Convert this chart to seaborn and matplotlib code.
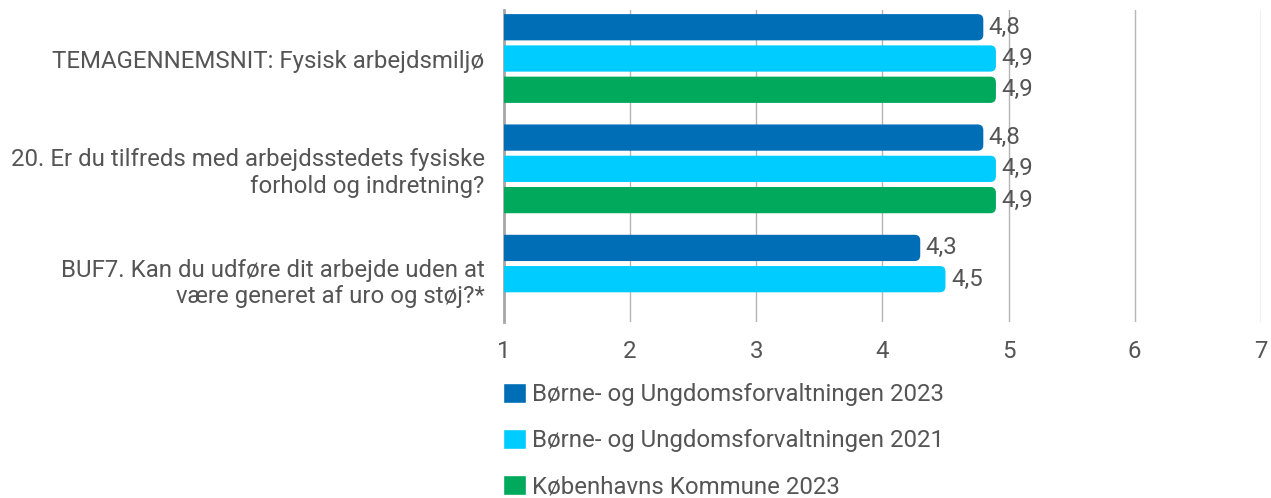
import numpy as np
import pandas as pd
import matplotlib.pyplot as plt
import seaborn as sns
from matplotlib.patches import FancyBboxPatch

questions = [
    "TEMAGENNEMSNIT: Fysisk arbejdsmiljø",
    "20. Er du tilfreds med arbejdsstedets fysiske\nforhold og indretning?",
    "BUF7. Kan du udføre dit arbejde uden at\nvære generet af uro og støj?*",
]
series = [
    "Børne- og Ungdomsforvaltningen 2023",
    "Børne- og Ungdomsforvaltningen 2021",
    "Københavns Kommune 2023",
]
buf_2023 = [4.8, 4.8, 4.3]
buf_2021 = [4.9, 4.9, 4.5]
kk_2023 = [4.9, 4.9, np.nan]
colors = ["#006EB6", "#00CCFF", "#00A95C"]
x_ticks = [1, 2, 3, 4, 5, 6, 7]

df = pd.DataFrame({
    "question": questions * 3,
    "series": [s for s in series for _ in questions],
    "value": buf_2023 + buf_2021 + kk_2023,
})

sns.set_theme(style="white")
plt.rcParams["font.family"] = ["Roboto", "DejaVu Sans"]
text_col = "#555555"
fs = 17.3

fig = plt.figure(figsize=(12.71, 4.98), dpi=100)
ax = fig.add_axes([0.3965, 0.353, 0.5955, 0.627])

sns.barplot(data=df, x="value", y="question", hue="series", hue_order=series,
            order=questions, orient="h", palette=colors, saturation=1,
            width=0.85, gap=0.16, errorbar=None, ax=ax)

handles, labels = ax.get_legend_handles_labels()
ax.get_legend().remove()

for cont in ax.containers:
    ax.bar_label(cont, fmt=lambda v: f"{v:.1f}".replace(".", ","), padding=4,
                 fontsize=fs, color=text_col)
    for bar in cont.patches:
        x0, y0 = bar.get_x(), bar.get_y()
        w, h = bar.get_width(), bar.get_height()
        rb = FancyBboxPatch((x0, y0), w, h,
                            boxstyle="round,pad=0,rounding_size=0.045",
                            mutation_aspect=1.15, facecolor=bar.get_facecolor(),
                            edgecolor="none", zorder=3)
        ax.add_patch(rb)
        bar.set_visible(False)

ax.set_xlim(1, 7)
ax.set_ylim(2.39, -0.44)
ax.set_xticks(x_ticks)
ax.set_xticklabels([str(t) for t in x_ticks])
ax.set_xlabel("")
ax.set_ylabel("")
ax.grid(axis="x", color="#b5b5b5", linewidth=1)
ax.set_axisbelow(True)
for s in ["top", "right", "bottom"]:
    ax.spines[s].set_visible(False)
ax.spines["left"].set_color("#a6a6a6")
ax.spines["left"].set_linewidth(2)
ax.tick_params(axis="x", length=0, pad=13, labelsize=fs, labelcolor=text_col)
ax.tick_params(axis="y", length=0, pad=14, labelsize=fs, labelcolor=text_col)
for lbl in ax.get_yticklabels():
    lbl.set_horizontalalignment("right")
    lbl.set_multialignment("right")

leg = fig.legend(handles, labels, loc="upper left", bbox_to_anchor=(0.3885, 0.251),
                 frameon=False, fontsize=fs, labelcolor=text_col,
                 handlelength=0.95, handleheight=0.95, handletextpad=0.25,
                 labelspacing=0.93, borderaxespad=0)

fig.savefig("out.png", dpi=100)
